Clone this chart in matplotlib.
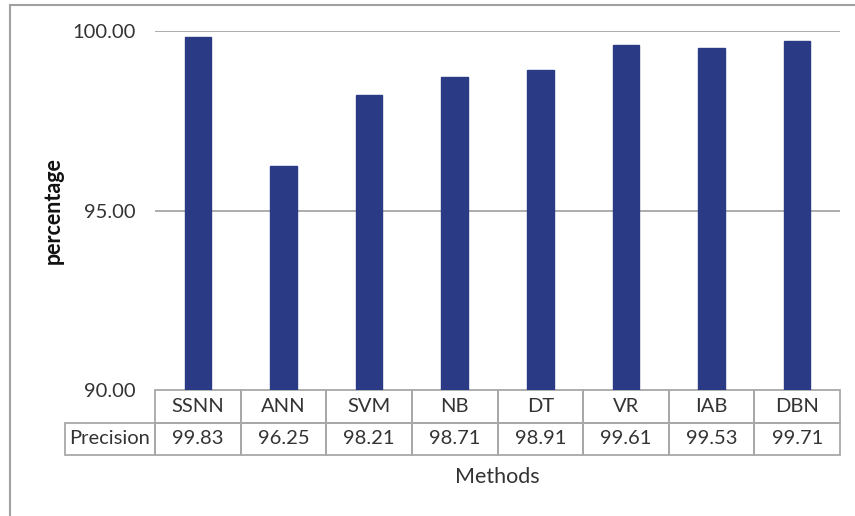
import matplotlib
matplotlib.use("Agg")
import matplotlib.pyplot as plt
from matplotlib.patches import Rectangle
from matplotlib.lines import Line2D
from matplotlib.transforms import blended_transform_factory

methods = ["SSNN", "ANN", "SVM", "NB", "DT", "VR", "IAB", "DBN"]
precision = [99.83, 96.25, 98.21, 98.71, 98.91, 99.61, 99.53, 99.71]
row_label = "Precision"
yticks = [90, 95, 100]

plt.rcParams['font.family'] = ['Lato', 'DejaVu Sans']

W, H = 855, 516
fig = plt.figure(figsize=(W / 100, H / 100), dpi=100)
ax = fig.add_axes([155 / W, 1 - 390 / H, 685 / W, 359 / H])

x = list(range(len(methods)))
ax.bar(x, [p - 90 for p in precision], bottom=90, width=0.31, color="#2A3A85",
       edgecolor="#2A3A85", zorder=3)
ax.set_xlim(-0.5, len(methods) - 0.5)
ax.set_ylim(90, 100)
ax.set_yticks(yticks)
ax.set_yticklabels([f"{v:.2f}" for v in yticks], fontsize=14.5, color="#333333")
ax.tick_params(axis="y", length=0, pad=14)
ax.set_xticks([])
for s in ax.spines.values():
    s.set_visible(False)
for v in yticks[1:]:
    ax.axhline(v, color="#A6A6A6", lw=1.3, zorder=1)
ax.set_ylabel("percentage", fontsize=15.5, fontweight="bold", color="#111111")
ax.yaxis.set_label_coords((64 - 155) / 685, 0.5)

# data table below the axis
tr = blended_transform_factory(ax.transData, ax.transAxes)
rh = 32.5 / 359
lc = "#A8A8A8"
fs = 14.5
for i, (m, p) in enumerate(zip(methods, precision)):
    for r, txt in enumerate([m, f"{p:.2f}"]):
        y0 = -(r + 1) * rh
        ax.add_patch(Rectangle((i - 0.5, y0), 1, rh, transform=tr, fill=False,
                               edgecolor=lc, lw=1.3, clip_on=False))
        ax.text(i, y0 + rh / 2, txt, transform=tr, ha="center", va="center",
                fontsize=fs, color="#333333", clip_on=False)
lx0 = -0.5 - 90 / 85.7
ax.add_patch(Rectangle((lx0, -2 * rh), -0.5 - lx0, rh, transform=tr, fill=False,
                       edgecolor=lc, lw=1.3, clip_on=False))
ax.text((lx0 - 0.5) / 2, -1.5 * rh, row_label, transform=tr, ha="center", va="center",
        fontsize=fs, color="#333333", clip_on=False)

ax.text(0.5, -(477 - 390) / 359, "Methods", transform=ax.transAxes, ha="center",
        va="center", fontsize=15.5, color="#333333")

# outer frame lines (left and top)
fig.add_artist(Line2D([10 / W, 10 / W], [0, 1 - 5 / H], color="#A0A0A0", lw=1.5))
fig.add_artist(Line2D([10 / W, 1], [1 - 5 / H, 1 - 5 / H], color="#A0A0A0", lw=1.5))

fig.savefig("out.png", dpi=100)
